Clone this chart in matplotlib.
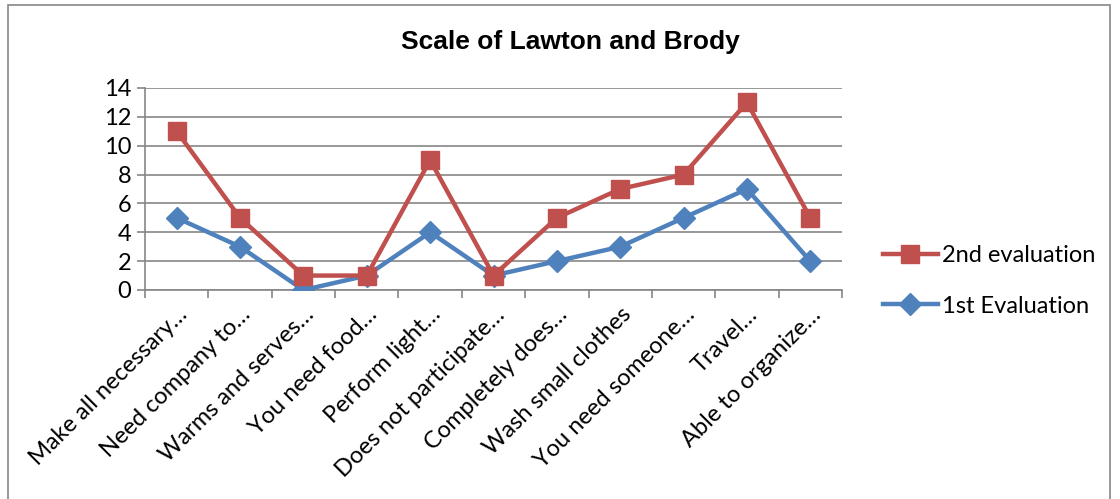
import matplotlib.pyplot as plt
from matplotlib.patches import Rectangle

categories = ["Make all necessary…", "Need company to…", "Warms and serves…",
              "You need food…", "Perform light…", "Does not participate…",
              "Completely does…", "Wash small clothes", "You need someone…",
              "Travel…", "Able to organize…"]
second_eval = [11, 5, 1, 1, 9, 1, 5, 7, 8, 13, 5]
first_eval = [5, 3, 0, 1, 4, 1, 2, 3, 5, 7, 2]

RED = "#C0504D"
BLUE = "#4F81BD"
GRID = "#868686"

W, H = 1120, 499
fig = plt.figure(figsize=(W / 100, H / 100), dpi=100)
fig.patches.append(Rectangle((8 / W, -0.01), (1110 - 8) / W, 1 - 5 / H + 0.01,
                             transform=fig.transFigure, fill=False,
                             edgecolor=GRID, linewidth=1.2))

ax = fig.add_axes([145 / W, 1 - 290 / H, (842 - 145) / W, (290 - 88) / H])
x = list(range(len(categories)))
l1, = ax.plot(x, first_eval, color=BLUE, linewidth=3.2, marker="D",
              markersize=11, label="1st Evaluation", zorder=3)
l2, = ax.plot(x, second_eval, color=RED, linewidth=3.2, marker="s",
              markersize=13, label="2nd evaluation", zorder=4)

ax.set_xlim(-0.5, len(categories) - 0.5)
ax.set_ylim(0, 14)
ax.set_yticks(range(0, 15, 2))
ax.grid(axis="y", color=GRID, linewidth=1.2)
ax.set_axisbelow(True)
for s in ["top", "right"]:
    ax.spines[s].set_visible(False)
for s in ["left", "bottom"]:
    ax.spines[s].set_color(GRID)
    ax.spines[s].set_linewidth(1.2)

ax.set_xticks([i - 0.5 for i in range(len(categories) + 1)])
ax.set_xticklabels([])
ax.set_xticks(x, minor=True)
ax.set_xticklabels(categories, minor=True, rotation=45, ha="right",
                   rotation_mode="anchor", fontsize=17, family="Lato")
ax.tick_params(axis="x", which="minor", length=0, pad=10)
ax.tick_params(axis="x", which="major", length=6, color=GRID, width=1.2)
ax.tick_params(axis="y", length=6, color=GRID, width=1.2, labelsize=17, pad=4)
for t in ax.get_yticklabels():
    t.set_family("Lato")

fig.text(570 / W, 1 - 42 / H, "Scale of Lawton and Brody", ha="center",
         va="center", fontsize=19, fontweight="bold", family="Liberation Sans")

ax.legend([l2, l1], ["2nd evaluation", "1st Evaluation"], loc="center left",
          bbox_to_anchor=(862 / W, 1 - 281 / H), bbox_transform=fig.transFigure,
          frameon=False, prop={"family": "Lato", "size": 17}, handlelength=2.3,
          labelspacing=1.25, handletextpad=0.2)

fig.savefig("out.png", dpi=100)
